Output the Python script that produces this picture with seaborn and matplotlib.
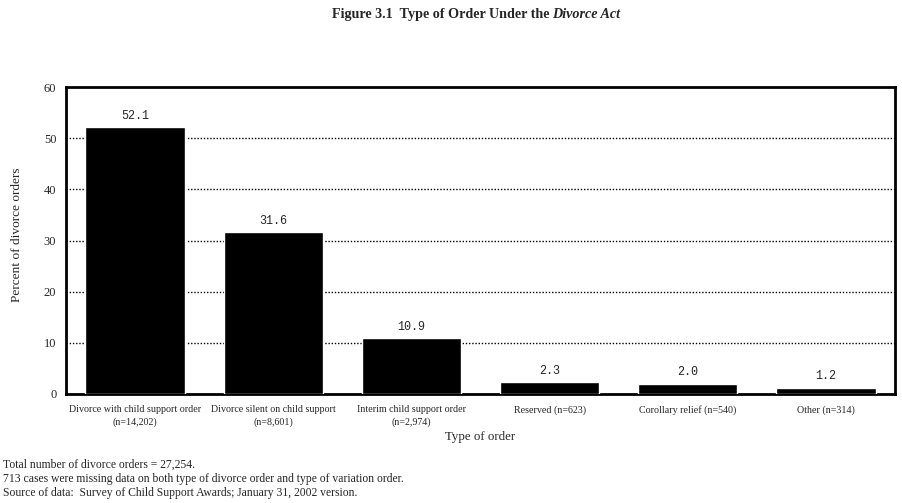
import matplotlib
matplotlib.use("Agg")
import matplotlib.pyplot as plt
import seaborn as sns
import pandas as pd

# Data
categories = [
    "Divorce with child support order\n(n=14,202)",
    "Divorce silent on child support\n(n=8,601)",
    "Interim child support order\n(n=2,974)",
    "Reserved (n=623)",
    "Corollary relief (n=540)",
    "Other (n=314)",
]
percents = [52.1, 31.6, 10.9, 2.3, 2.0, 1.2]
y_ticks = [0, 10, 20, 30, 40, 50, 60]

footnotes = [
    "Total number of divorce orders = 27,254.",
    "713 cases were missing data on both type of divorce order and type of variation order.",
    "Source of data:  Survey of Child Support Awards; January 31, 2002 version.",
]

df = pd.DataFrame({"order": categories, "pct": percents})

sns.set_style("white")
plt.rcParams["font.family"] = ["Liberation Serif", "DejaVu Serif"]

fig = plt.figure(figsize=(9.02, 5.03), dpi=100)
ax = fig.add_axes([0.0732, 0.2167, 0.9190, 0.6103])

sns.barplot(data=df, x="order", y="pct", color="black", width=0.72,
            saturation=1, ax=ax, zorder=3)

ax.set_ylim(0, 60)
ax.set_yticks(y_ticks)
ax.set_xlim(-0.5, len(categories) - 0.5)
for y in y_ticks[1:-1]:
    ax.axhline(y, color="black", lw=1, ls=(0, (1, 1.3)), zorder=1)

for i, v in enumerate(percents):
    ax.text(i, v + 1.1, f"{v:.1f}", ha="center", va="bottom",
            fontsize=8.5, family="Liberation Mono")

for s in ax.spines.values():
    s.set_linewidth(2)
    s.set_color("black")

ax.tick_params(axis="y", length=0, labelsize=9, pad=7)
ax.tick_params(axis="x", length=0, labelsize=7.2, pad=8)
for lbl in ax.get_xticklabels():
    lbl.set_linespacing(1.5)

ax.set_xlabel("Type of order", fontsize=9.3, va="top")
ax.xaxis.set_label_coords(0.5, -0.12)
ax.set_ylabel("Percent of divorce orders", fontsize=9.6)
ax.yaxis.set_label_coords(-0.052, 0.518)

# Title with italic part
fig.canvas.draw()
r = fig.canvas.get_renderer()
t1 = fig.text(0, 0.972, "Figure 3.1  Type of Order Under the ", fontsize=10.2,
              weight="bold", va="center")
t2 = fig.text(0, 0.972, "Divorce Act", fontsize=10.2, weight="bold",
              style="italic", va="center")
w1 = t1.get_window_extent(r).width
w2 = t2.get_window_extent(r).width
x0 = (fig.bbox.width - (w1 + w2)) / 2 + 25
t1.set_x(x0 / fig.bbox.width)
t2.set_x((x0 + w1) / fig.bbox.width)

for k, line in enumerate(footnotes):
    fig.text(0.003, 1 - (465 + 14 * k) / 503, line, fontsize=8.4, va="center")

fig.savefig("out.png", dpi=100)
